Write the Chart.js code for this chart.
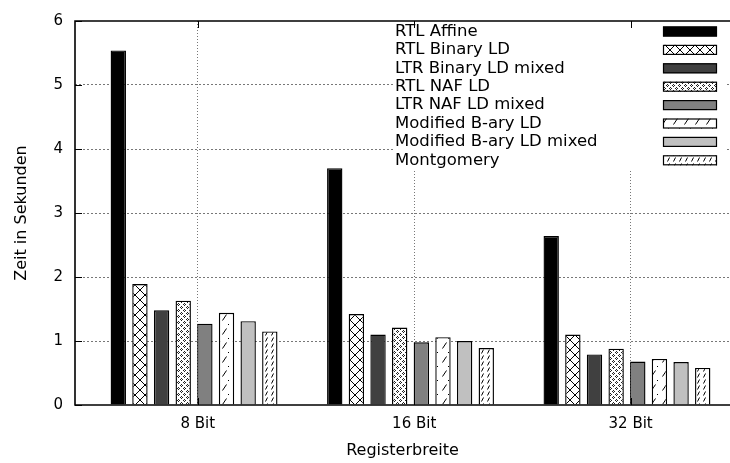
<!DOCTYPE html>
<html>
<head>
<meta charset="utf-8">
<script src="https://cdn.jsdelivr.net/npm/chart.js@4"></script>
<style>
  html, body { margin: 0; padding: 0; background: #fff; }
  canvas { display: block; }
</style>
</head>
<body>
<canvas id="c" width="730" height="463"></canvas>
<script>
// Laufzeiten der Skalarmultiplikation je Registerbreite (Sekunden)
const categories = ['8 Bit', '16 Bit', '32 Bit'];
const seriesNames = ['RTL Affine', 'RTL Binary LD', 'LTR Binary LD mixed', 'RTL NAF LD',
                     'LTR NAF LD mixed', 'Modified B-ary LD', 'Modified B-ary LD mixed', 'Montgomery'];
const rtlAffine        = [5.54, 3.70, 2.64];
const rtlBinaryLD      = [1.89, 1.42, 1.10];
const ltrBinaryLDMixed = [1.48, 1.10, 0.79];
const rtlNafLD         = [1.63, 1.21, 0.88];
const ltrNafLDMixed    = [1.27, 0.98, 0.68];
const modBaryLD        = [1.44, 1.06, 0.72];
const modBaryLDMixed   = [1.31, 1.00, 0.67];
const montgomery       = [1.15, 0.89, 0.58];
const yTicks = [0, 1, 2, 3, 4, 5, 6];

const FONT = 'DejaVu Sans';
const canvas = document.getElementById('c');
const ctx0 = canvas.getContext('2d');

// small fill patterns in the style of gnuplot's hatched boxes
function makePattern(w, h, draw) {
  const c = document.createElement('canvas');
  c.width = w; c.height = h;
  const g = c.getContext('2d');
  g.fillStyle = '#fff';
  g.fillRect(0, 0, w, h);
  g.strokeStyle = '#000';
  g.fillStyle = '#000';
  g.lineWidth = 1;
  draw(g);
  return ctx0.createPattern(c, 'repeat');
}
const crossPattern = makePattern(10, 10, g => {
  g.beginPath();
  g.moveTo(0, 0); g.lineTo(10, 10);
  g.moveTo(10, 0); g.lineTo(0, 10);
  g.stroke();
});
const ringPattern = makePattern(6, 6, g => {
  g.fillStyle = '#222';
  [[1,0],[0,1],[2,1],[1,2],[4,3],[3,4],[5,4],[4,5]].forEach(p => g.fillRect(p[0], p[1], 1, 1));
});
const sparseSlashPattern = makePattern(11, 14, g => {
  g.beginPath();
  g.moveTo(2.5, 12.5); g.lineTo(6.5, 6.5);
  g.stroke();
  g.fillRect(8, 2, 1, 1);
});
const denseSlashPattern = makePattern(6, 6, g => {
  g.beginPath();
  g.moveTo(1.5, 5.5); g.lineTo(3.5, 1.5);
  g.stroke();
});

const seriesValues = [rtlAffine, rtlBinaryLD, ltrBinaryLDMixed, rtlNafLD,
                      ltrNafLDMixed, modBaryLD, modBaryLDMixed, montgomery];
const seriesFills = ['#000000', crossPattern, '#404040', ringPattern,
                     '#808080', sparseSlashPattern, '#c0c0c0', denseSlashPattern];

const datasets = seriesNames.map((name, i) => ({
  label: name,
  data: seriesValues[i].map((v, k) => ({ x: k, y: v })),
  backgroundColor: seriesFills[i],
  borderColor: '#000',
  borderWidth: 1.4,
  xAxisID: 'xb',
  categoryPercentage: 0.8,
  barPercentage: 0.71
}));

// key box with label on the left and swatch on the right
const keyPlugin = {
  id: 'keyBox',
  afterDraw(chart) {
    const ctx = chart.ctx;
    ctx.save();
    ctx.fillStyle = '#fff';
    ctx.fillRect(393, 20, 333, 151);
    ctx.font = '16.5px "' + FONT + '"';
    ctx.textAlign = 'left';
    ctx.textBaseline = 'middle';
    chart.data.datasets.forEach((ds, i) => {
      const cy = 31.5 + 18.4 * i;
      ctx.fillStyle = '#000';
      ctx.fillText(ds.label, 395, cy);
      ctx.fillStyle = ds.backgroundColor;
      ctx.fillRect(663, cy - 5, 54, 10);
      ctx.strokeStyle = '#000';
      ctx.lineWidth = 1.2;
      ctx.strokeRect(663.5, cy - 4.5, 53, 9);
    });
    ctx.restore();
  }
};

// plot frame and inward tick marks
const framePlugin = {
  id: 'frame',
  afterDraw(chart) {
    const ctx = chart.ctx;
    const a = chart.chartArea;
    const xs = chart.scales.x, ys = chart.scales.y;
    ctx.save();
    ctx.strokeStyle = '#000';
    ctx.lineWidth = 1;
    ctx.beginPath();
    yTicks.forEach(v => {
      const y = Math.round(ys.getPixelForValue(v)) + 0.5;
      ctx.moveTo(a.left, y); ctx.lineTo(a.left + 7, y);
    });
    categories.forEach((_, k) => {
      const x = Math.round(xs.getPixelForValue(k)) + 0.5;
      ctx.moveTo(x, a.top); ctx.lineTo(x, a.top + 7);
      ctx.moveTo(x, a.bottom); ctx.lineTo(x, a.bottom - 7);
    });
    ctx.stroke();
    ctx.lineWidth = 1.6;
    ctx.beginPath();
    ctx.moveTo(a.right, a.top); ctx.lineTo(a.left, a.top);
    ctx.lineTo(a.left, a.bottom); ctx.lineTo(a.right, a.bottom);
    ctx.stroke();
    ctx.restore();
  }
};

const categoryTicks = s => { s.ticks = categories.map((_, k) => ({ value: k })); };

new Chart(canvas, {
  type: 'bar',
  data: { datasets },
  options: {
    responsive: false,
    animation: false,
    devicePixelRatio: 1,
    layout: { padding: { top: 13, right: 0, left: 0, bottom: 0 } },
    plugins: { legend: { display: false }, tooltip: { enabled: false } },
    scales: {
      x: {
        type: 'linear',
        position: 'bottom',
        offset: false,
        min: -0.567,
        max: 2.459,
        afterBuildTicks: categoryTicks,
        afterFit: s => { s.height = 58; },
        ticks: {
          callback: v => categories[v],
          color: '#000',
          font: { family: FONT, size: 15 },
          padding: 10,
          autoSkip: false,
          maxRotation: 0
        },
        grid: { offset: false, color: '#777', lineWidth: 1, drawTicks: false },
        border: { display: false, dash: [1, 2] },
        title: {
          display: true,
          text: 'Registerbreite',
          color: '#000',
          font: { family: FONT, size: 16 },
          padding: { top: 0, bottom: 2.4 }
        }
      },
      xb: {
        type: 'linear',
        display: false,
        offset: false,
        grid: { offset: false },
        min: -0.550,
        max: 2.476,
        afterBuildTicks: categoryTicks
      },
      y: {
        min: 0,
        max: 6,
        afterBuildTicks: s => { s.ticks = yTicks.map(v => ({ value: v })); },
        afterFit: s => { s.width = 75; },
        ticks: {
          color: '#000',
          font: { family: FONT, size: 15 },
          padding: 12
        },
        grid: {
          color: c => (c.tick && (c.tick.value === 0 || c.tick.value === 6)) ? 'rgba(0,0,0,0)' : '#777',
          lineWidth: 1,
          drawTicks: false
        },
        border: { display: false, dash: [2, 2] },
        title: {
          display: true,
          text: 'Zeit in Sekunden',
          color: '#000',
          font: { family: FONT, size: 16 },
          padding: { top: 12, bottom: 0 }
        }
      }
    }
  },
  plugins: [keyPlugin, framePlugin]
});
</script>
</body>
</html>
